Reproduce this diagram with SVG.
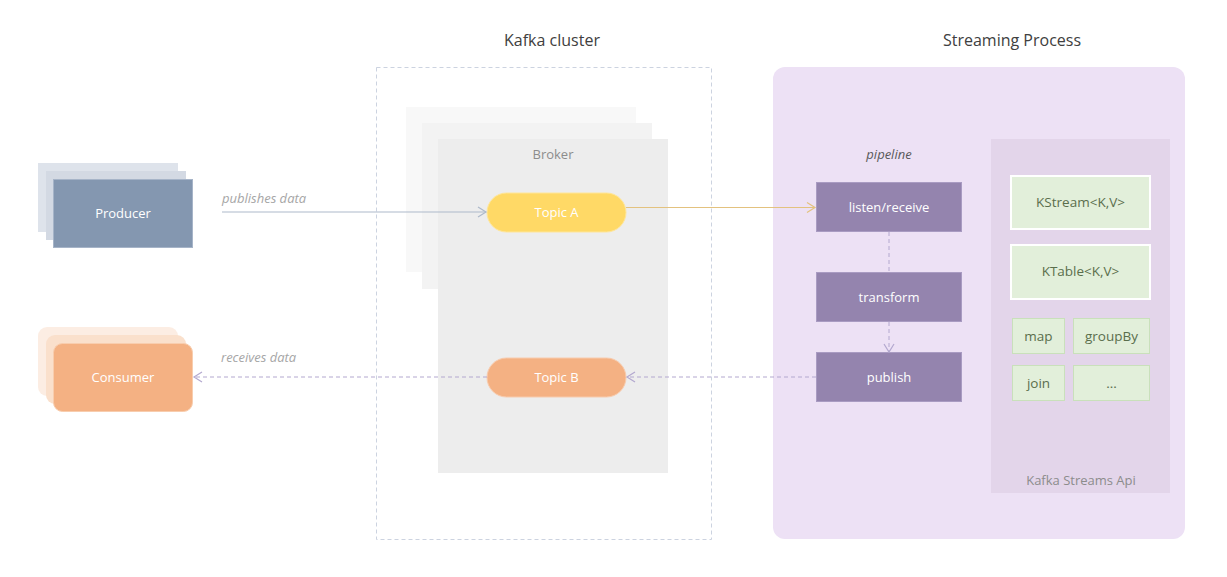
<svg xmlns="http://www.w3.org/2000/svg" width="1227" height="577" viewBox="0 0 1227 577">
<style>
text{font-family:"Open Sans","Noto Sans","Liberation Sans",sans-serif;}
.title{font-size:16px;fill:#404040;text-anchor:middle;}
.wt{font-size:13px;fill:#ffffff;text-anchor:middle;}
.gt{font-size:13px;fill:#8c8c8c;text-anchor:middle;}
.lbl{font-size:13px;fill:#a6a6a6;font-style:italic;}
.grn{font-size:13.5px;fill:#5a6e4c;text-anchor:middle;}
.step{fill:#9484ae;stroke:#a99bc2;stroke-width:1;}
.gbox{fill:#e2efda;stroke:#ffffff;stroke-width:2;}
.gsm{fill:#e2efda;stroke:#c9e0bb;stroke-width:1;}
</style>
<defs>
<marker id="arrBlue" markerWidth="12" markerHeight="12" refX="10" refY="6" orient="auto" markerUnits="userSpaceOnUse"><path d="M2,1 L10,6 L2,11" fill="none" stroke="#adb9ca" stroke-width="1.2"/></marker>
<marker id="arrGold" markerWidth="12" markerHeight="12" refX="10" refY="6" orient="auto" markerUnits="userSpaceOnUse"><path d="M2,1 L10,6 L2,11" fill="none" stroke="#e3c27f" stroke-width="1.2"/></marker>
<marker id="arrPurp" markerWidth="12" markerHeight="12" refX="10" refY="6" orient="auto" markerUnits="userSpaceOnUse"><path d="M2,1 L10,6 L2,11" fill="none" stroke="#b3a8cf" stroke-width="1.2"/></marker>
</defs>
<rect width="1227" height="577" fill="#ffffff"/>

<g id="kafka-cluster">
<rect x="376.5" y="67.5" width="335" height="472" fill="none" stroke="#ccd3e0" stroke-width="1" stroke-dasharray="4,3"/>
<text class="title" x="552" y="46">Kafka cluster</text>
</g>

<g id="streaming-process">
<rect x="773" y="67" width="412" height="472" rx="12" fill="#ede1f5"/>
<text class="title" x="1012" y="46">Streaming Process</text>
</g>

<g id="broker">
<rect x="406" y="107" width="230" height="165" fill="#f8f8f8"/>
<rect x="422" y="123" width="230" height="166" fill="#f3f3f3"/>
<rect x="438" y="139" width="230" height="334" fill="#ededed"/>
<text class="gt" x="553" y="159">Broker</text>
</g>

<g id="producer">
<rect x="38" y="163" width="140" height="69" fill="#dee3eb"/>
<rect x="46" y="171" width="140" height="69" fill="#d3d9e3"/>
<rect x="53.5" y="179.5" width="139" height="68" fill="#8497b0" stroke="#a6b4c8" stroke-width="1"/>
<text class="wt" x="123" y="218">Producer</text>
</g>

<g id="consumer">
<rect x="38" y="327" width="140" height="69" rx="9" fill="#fcede3"/>
<rect x="46" y="335" width="140" height="69" rx="9" fill="#fae0cc"/>
<rect x="53.5" y="343.5" width="139" height="68" rx="9" fill="#f4b183" stroke="#f8cdae" stroke-width="1"/>
<text class="wt" x="123" y="382">Consumer</text>
</g>

<g id="topic-a">
<rect x="487" y="193" width="139" height="39" rx="19.5" fill="#ffd966" stroke="#ffe699" stroke-width="1"/>
<text class="wt" x="556.5" y="217">Topic A</text>
</g>

<g id="topic-b">
<rect x="487" y="358" width="139" height="39" rx="19.5" fill="#f4b183" stroke="#f8cbad" stroke-width="1"/>
<text class="wt" x="556.5" y="382">Topic B</text>
</g>

<g id="pipeline">
<text x="889" y="159" style="font-size:13px;fill:#595959;font-style:italic;text-anchor:middle">pipeline</text>
</g>

<g id="listen-receive">
<rect class="step" x="816.5" y="182.5" width="145" height="49"/>
<text class="wt" x="889" y="212">listen/receive</text>
</g>
<g id="transform">
<rect class="step" x="816.5" y="272.5" width="145" height="49"/>
<text class="wt" x="889" y="302">transform</text>
</g>
<g id="publish">
<rect class="step" x="816.5" y="352.5" width="145" height="49"/>
<text class="wt" x="889" y="382">publish</text>
</g>

<g id="kafka-streams-api">
<rect x="991" y="139" width="179" height="354" fill="#e3d5ea"/>
<text class="gt" x="1081" y="485">Kafka Streams Api</text>
</g>
<g id="kstream">
<rect class="gbox" x="1011" y="176" width="139" height="53"/>
<text class="grn" x="1080.5" y="207">KStream&lt;K,V&gt;</text>
</g>
<g id="ktable">
<rect class="gbox" x="1011" y="245" width="139" height="54"/>
<text class="grn" x="1080.5" y="276">KTable&lt;K,V&gt;</text>
</g>
<g id="map">
<rect class="gsm" x="1012.5" y="318.5" width="52" height="35"/>
<text class="grn" x="1038.5" y="341">map</text>
</g>
<g id="groupby">
<rect class="gsm" x="1073.5" y="318.5" width="76" height="35"/>
<text class="grn" x="1111.5" y="341">groupBy</text>
</g>
<g id="join">
<rect class="gsm" x="1012.5" y="365.5" width="52" height="35"/>
<text class="grn" x="1038.5" y="388">join</text>
</g>
<g id="more">
<rect class="gsm" x="1073.5" y="365.5" width="76" height="35"/>
<text class="grn" x="1111.5" y="388">...</text>
</g>

<g id="connectors">
<line x1="222" y1="212" x2="486" y2="212" stroke="#adb9ca" stroke-width="1" marker-end="url(#arrBlue)"/>
<text class="lbl" x="222" y="203">publishes data</text>
<line x1="626" y1="207.5" x2="815" y2="207.5" stroke="#e3c27f" stroke-width="1" marker-end="url(#arrGold)"/>
<line x1="889" y1="232" x2="889" y2="272" stroke="#b3a8cf" stroke-width="1" stroke-dasharray="4,3"/>
<line x1="889" y1="322" x2="889" y2="352" stroke="#b3a8cf" stroke-width="1" stroke-dasharray="4,3" marker-end="url(#arrPurp)"/>
<line x1="816" y1="377" x2="627" y2="377" stroke="#b3a8cf" stroke-width="1" stroke-dasharray="4,3" marker-end="url(#arrPurp)"/>
<line x1="487" y1="377" x2="194" y2="377" stroke="#b3a8cf" stroke-width="1" stroke-dasharray="4,3" marker-end="url(#arrPurp)"/>
<text class="lbl" x="221" y="362">receives data</text>
</g>
</svg>
